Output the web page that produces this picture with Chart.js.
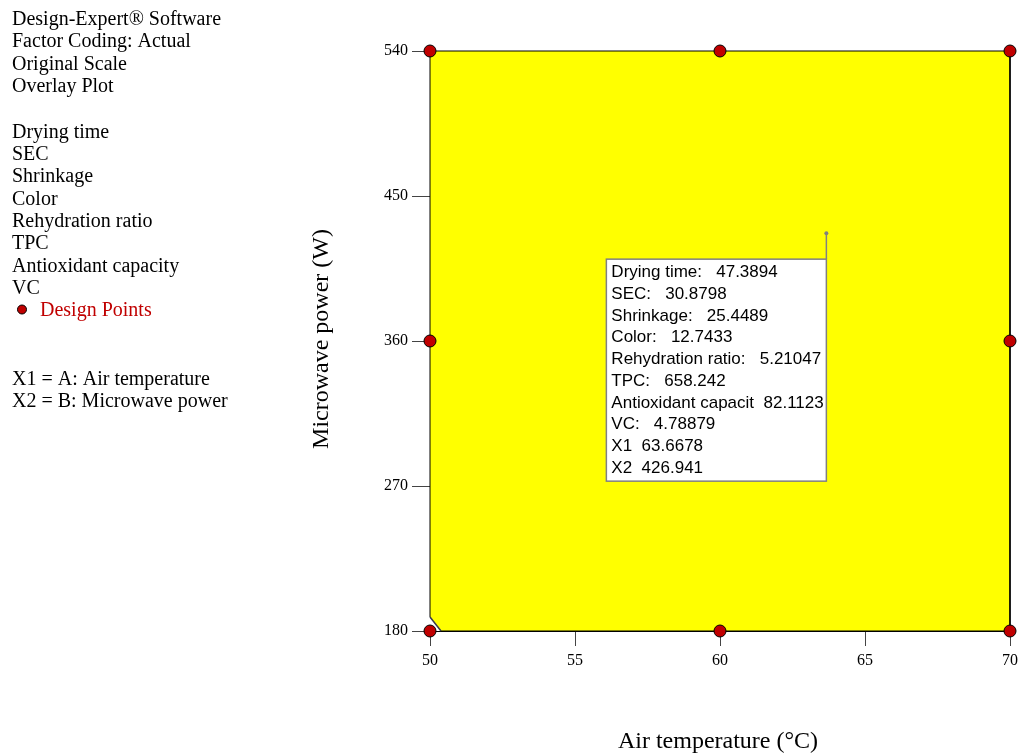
<!DOCTYPE html>
<html>
<head>
<meta charset="utf-8">
<script src="https://cdn.jsdelivr.net/npm/chart.js@4.4.1/dist/chart.umd.min.js"></script>
<style>
html,body{margin:0;padding:0;background:#fff;}
#wrap{width:1019px;height:754px;position:relative;}
</style>
</head>
<body>
<div id="wrap"><canvas id="c" width="1019" height="754"></canvas></div>
<script>
// ---- data ----
const xTicks = [50, 55, 60, 65, 70];
const yTicks = [180, 270, 360, 450, 540];
const designX = [50, 60, 70, 50, 60, 70, 50, 60, 70];
const designY = [180, 180, 180, 360, 360, 360, 540, 540, 540];
const regionX = [50, 50, 70, 70];
const regionY = [188.7, 540, 540, 180];
const bottomX = [50.38, 70];
const bottomY = [180, 180];
const cornerX = [50, 50.38];
const cornerY = [188.7, 180];
const flagX = [63.6678];
const flagY = [426.941];
const flagLines = [
  "Drying time:   47.3894",
  "SEC:   30.8798",
  "Shrinkage:   25.4489",
  "Color:   12.7433",
  "Rehydration ratio:   5.21047",
  "TPC:   658.242",
  "Antioxidant capacit  82.1123",
  "VC:   4.78879",
  "X1  63.6678",
  "X2  426.941"
];
const infoTop = ["Design-Expert® Software", "Factor Coding: Actual", "Original Scale", "Overlay Plot"];
const responses = ["Drying time", "SEC", "Shrinkage", "Color", "Rehydration ratio", "TPC", "Antioxidant capacity", "VC"];
const factors = ["X1 = A: Air temperature", "X2 = B: Microwave power"];
const xTitle = "Air temperature (°C)";
const yTitle = "Microwave power (W)";

const pts = (xs, ys) => xs.map((x, i) => ({x: x, y: ys[i]}));

const overlay = {
  id: 'overlay',
  afterDatasetsDraw(chart) {
    const ctx = chart.ctx;
    const xs = chart.scales.x, ys = chart.scales.y;
    ctx.save();
    // flag box
    const fx = xs.getPixelForValue(flagX[0]);
    const fy = ys.getPixelForValue(flagY[0]);
    const bw = 220, bh = 222;
    const bx = fx - bw, by = fy + 26;
    ctx.strokeStyle = '#808080';
    ctx.lineWidth = 1.5;
    ctx.beginPath();
    ctx.moveTo(fx, fy);
    ctx.lineTo(fx, by);
    ctx.stroke();
    ctx.fillStyle = '#fff';
    ctx.fillRect(bx, by, bw, bh);
    ctx.strokeRect(bx, by, bw, bh);
    ctx.fillStyle = '#000';
    ctx.font = '17px "Liberation Sans", Arial, sans-serif';
    ctx.textBaseline = 'middle';
    ctx.textAlign = 'left';
    flagLines.forEach((t, i) => ctx.fillText(t, bx + 5, by + 13.5 + i * 21.7));
    // flag point
    ctx.fillStyle = '#808080';
    ctx.beginPath();
    ctx.arc(fx, fy, 2, 0, Math.PI * 2);
    ctx.fill();
    ctx.restore();
  },
  afterDraw(chart) {
    const ctx = chart.ctx;
    ctx.save();
    ctx.fillStyle = '#000';
    ctx.font = '20px "Liberation Serif", "Times New Roman", serif';
    ctx.textBaseline = 'middle';
    ctx.textAlign = 'left';
    infoTop.forEach((t, i) => ctx.fillText(t, 12, 20 + i * 22.2));
    responses.forEach((t, i) => ctx.fillText(t, 12, 132.5 + i * 22.3));
    ctx.fillStyle = '#c00000';
    ctx.fillText("Design Points", 40, 310.5);
    ctx.beginPath();
    ctx.arc(22, 309.5, 4.5, 0, Math.PI * 2);
    ctx.fillStyle = '#c00000';
    ctx.fill();
    ctx.strokeStyle = '#000';
    ctx.lineWidth = 1;
    ctx.stroke();
    ctx.fillStyle = '#000';
    factors.forEach((t, i) => ctx.fillText(t, 12, 379.5 + i * 22.2));
    // axis titles
    ctx.font = '24px "Liberation Serif", "Times New Roman", serif';
    ctx.textAlign = 'center';
    ctx.fillText(xTitle, 718, 742);
    ctx.translate(322, 339);
    ctx.rotate(-Math.PI / 2);
    ctx.fillText(yTitle, 0, 0);
    ctx.restore();
  }
};

const tickFont = {family: '"Liberation Serif", "Times New Roman", serif', size: 16};

new Chart(document.getElementById('c'), {
  type: 'scatter',
  data: {
    datasets: [
      {
        label: 'region', data: pts(regionX, regionY), showLine: true,
        fill: {value: 180}, backgroundColor: '#ffff00', borderColor: '#000',
        borderWidth: 1, pointRadius: 0, order: 4, clip: false, tension: 0
      },
      {
        label: 'bottom', data: pts(bottomX, bottomY), showLine: true,
        fill: false, borderColor: '#000',
        borderWidth: 1, pointRadius: 0, order: 3, clip: false
      },
      {
        label: 'corner', data: pts(cornerX, cornerY), showLine: true,
        fill: {value: 180}, backgroundColor: '#ffffff', borderColor: '#3a3a4a',
        borderWidth: 1.5, pointRadius: 0, order: 2, clip: false
      },
      {
        label: 'Design Points', data: pts(designX, designY), showLine: false,
        pointRadius: 6, pointBackgroundColor: '#c00000', pointBorderColor: '#000',
        pointBorderWidth: 1, order: 1, clip: false
      }
    ]
  },
  options: {
    responsive: false,
    animation: false,
    events: [],
    layout: {padding: {top: 51, right: 9, left: 0, bottom: 0}},
    plugins: {legend: {display: false}, tooltip: {enabled: false}},
    scales: {
      x: {
        type: 'linear', min: 50, max: 70,
        afterBuildTicks: s => { s.ticks = xTicks.map(v => ({value: v})); },
        afterFit: s => { s.height = 123; s.paddingRight = 0; s.paddingLeft = 0; },
        grid: {drawOnChartArea: false, drawTicks: true, tickLength: 15, color: '#444'},
        border: {display: true, color: '#000', width: 1},
        ticks: {font: tickFont, color: '#000', padding: 5, maxRotation: 0}
      },
      y: {
        type: 'linear', min: 180, max: 540,
        afterBuildTicks: s => { s.ticks = yTicks.map(v => ({value: v})); },
        afterFit: s => { s.width = 430; s.paddingTop = 0; s.paddingBottom = 0; },
        grid: {drawOnChartArea: false, drawTicks: true, tickLength: 18, color: '#444'},
        border: {display: true, color: '#000', width: 1},
        ticks: {font: tickFont, color: '#000', padding: 4}
      }
    }
  },
  plugins: [overlay]
});
</script>
</body>
</html>
